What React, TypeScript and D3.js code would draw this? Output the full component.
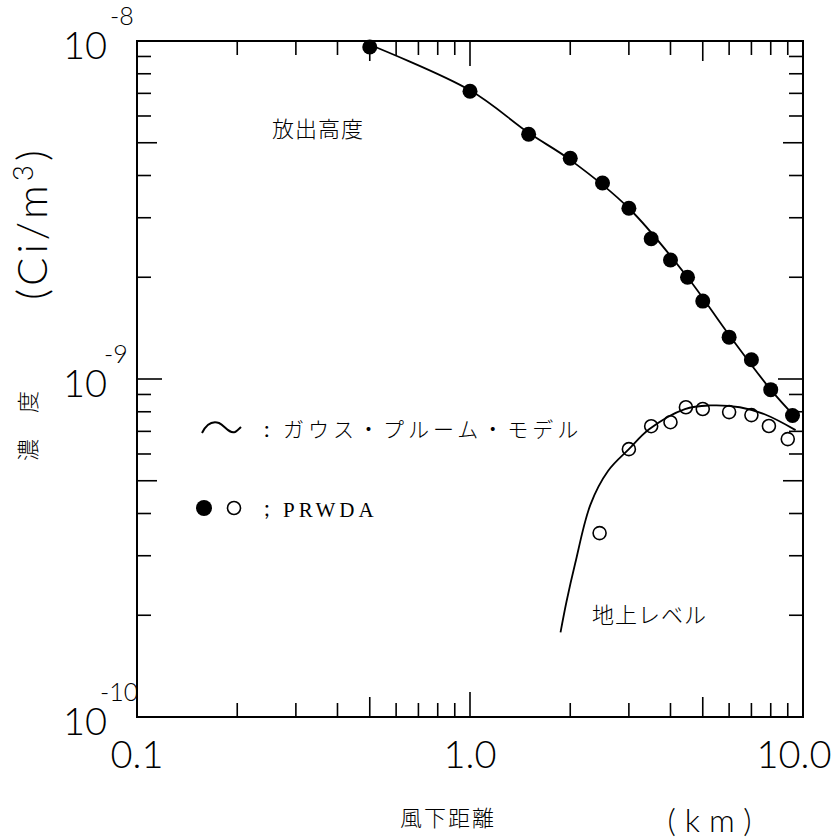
import React from 'react';
import * as d3 from 'd3';

const width = 833;
const height = 840;
const plot = { left: 137, right: 803, top: 41, bottom: 717 };

// release height (filled circles)
const releaseX = [0.5, 1.0, 1.5, 2.0, 2.5, 3.0, 3.5, 4.0, 4.5, 5.0, 6.0, 7.0, 8.0, 9.3];
const releaseY = [9.6e-9, 7.1e-9, 5.3e-9, 4.5e-9, 3.8e-9, 3.2e-9, 2.6e-9, 2.25e-9, 2.0e-9, 1.7e-9, 1.33e-9, 1.14e-9, 9.3e-10, 7.8e-10];

// ground level (open circles)
const groundX = [2.45, 3.0, 3.5, 4.0, 4.45, 5.0, 6.0, 7.0, 7.9, 9.0];
const groundY = [3.5e-10, 6.2e-10, 7.25e-10, 7.45e-10, 8.25e-10, 8.15e-10, 7.98e-10, 7.82e-10, 7.26e-10, 6.64e-10];

// gaussian plume model curves
const releaseCurveX = [0.5, 1.0, 1.5, 2.0, 3.0, 4.5, 6.0, 8.0, 9.5];
const releaseCurveY = [9.75e-9, 7.15e-9, 5.35e-9, 4.45e-9, 3.2e-9, 2.0e-9, 1.35e-9, 9.3e-10, 7.7e-10];
const groundCurveX = [1.87, 1.95, 2.07, 2.3, 2.6, 3.0, 3.45, 4.42, 5.25, 6.46, 7.7, 9.5];
const groundCurveY = [1.78e-10, 2.2e-10, 2.85e-10, 4.25e-10, 5.35e-10, 6.2e-10, 7.1e-10, 8.15e-10, 8.35e-10, 8.25e-10, 7.85e-10, 7.06e-10];

const xTickLabels = ['0.1', '1.0', '10.0'];
const xTickValues = [0.1, 1, 10];
const yExponents = [-8, -9, -10];

const sans = 'Lato, "Liberation Sans", Arial, sans-serif';
const jp = '"Noto Sans CJK JP", sans-serif';

const App = () => {
  const x = d3.scaleLog().domain([0.1, 10]).range([plot.left, plot.right]);
  const y = d3.scaleLog().domain([1e-10, 1e-8]).range([plot.bottom, plot.top]);

  const line = d3
    .line<[number, number]>()
    .x((d) => x(d[0]))
    .y((d) => y(d[1]))
    .curve(d3.curveCatmullRom.alpha(0.5));

  const releaseCurve = releaseCurveX.map((v, i) => [v, releaseCurveY[i]] as [number, number]);
  const groundCurve = groundCurveX.map((v, i) => [v, groundCurveY[i]] as [number, number]);

  // minor ticks 1..9 per decade
  const xTicks: number[] = [];
  [0.1, 1].forEach((b) => d3.range(1, 10).forEach((m) => xTicks.push(b * m)));
  xTicks.push(10);
  const yTicks: number[] = [];
  [1e-10, 1e-9].forEach((b) => d3.range(1, 10).forEach((m) => yTicks.push(b * m)));
  yTicks.push(1e-8);

  const tickLen = (v: number) => {
    const m = Math.round(v / Math.pow(10, Math.floor(Math.log10(v) + 1e-9)));
    return m === 1 ? 25 : m === 5 ? 20 : 14;
  };

  // superscript x positions for the y labels
  const supX: Record<string, number> = { '-8': 110, '-9': 104, '-10': 100 };

  return (
    <svg
      width={width}
      height={height}
      style={{ position: 'absolute', left: 0, top: 0, background: '#fff' }}
    >
      <rect
        x={plot.left}
        y={plot.top}
        width={plot.right - plot.left}
        height={plot.bottom - plot.top}
        fill="none"
        stroke="#000"
        strokeWidth={2}
      />
      {xTicks.map((v) => (
        <g key={'x' + v}>
          <line x1={x(v)} x2={x(v)} y1={plot.bottom} y2={plot.bottom - tickLen(v)} stroke="#000" strokeWidth={1.6} />
          <line x1={x(v)} x2={x(v)} y1={plot.top} y2={plot.top + tickLen(v)} stroke="#000" strokeWidth={1.6} />
        </g>
      ))}
      {yTicks.map((v) => (
        <g key={'y' + v}>
          <line x1={plot.left} x2={plot.left + tickLen(v)} y1={y(v)} y2={y(v)} stroke="#000" strokeWidth={1.6} />
          <line x1={plot.right} x2={plot.right - tickLen(v)} y1={y(v)} y2={y(v)} stroke="#000" strokeWidth={1.6} />
        </g>
      ))}

      {xTickValues.map((v, i) => (
        <text
          key={'xl' + v}
          x={x(v) + (i === 2 ? -9 : 0)}
          y={768}
          textAnchor="middle"
          fontFamily={sans}
          fontWeight={300}
          fontSize={38}
        >
          {xTickLabels[i]}
        </text>
      ))}
      {yExponents.map((e) => (
        <g key={'yl' + e} fontFamily={sans} fontWeight={300}>
          <text x={107} y={y(Math.pow(10, e)) + 18} textAnchor="end" fontSize={38}>
            10
          </text>
          <text x={supX[String(e)]} y={y(Math.pow(10, e)) - 16} fontSize={25}>
            {'-' + String(-e)}
          </text>
        </g>
      ))}

      <path d={line(releaseCurve) || ''} fill="none" stroke="#000" strokeWidth={1.8} />
      <path d={line(groundCurve) || ''} fill="none" stroke="#000" strokeWidth={1.8} />

      {releaseX.map((v, i) => (
        <circle key={'r' + i} cx={x(v)} cy={y(releaseY[i])} r={7.5} fill="#000" />
      ))}
      {groundX.map((v, i) => (
        <circle key={'g' + i} cx={x(v)} cy={y(groundY[i])} r={6.5} fill="none" stroke="#000" strokeWidth={1.6} />
      ))}

      <text x={272} y={137} fontFamily={jp} fontWeight={300} fontSize={22} letterSpacing={1}>
        放出高度
      </text>
      <text x={592} y={623} fontFamily={jp} fontWeight={300} fontSize={22} letterSpacing={1}>
        地上レベル
      </text>

      {/* legend */}
      <path
        d="M202,433 C207,423 213,421 219,423 C225,426 229,434 235,432 C237,431 239,429 241,427"
        fill="none"
        stroke="#000"
        strokeWidth={2}
      />
      <text x={264} y={437} fontFamily={sans} fontSize={22}>:</text>
      <text x={283} y={437} fontFamily={jp} fontWeight={300} fontSize={21} letterSpacing={4}>
        ガウス・プルーム・モデル
      </text>
      <circle cx={204} cy={508} r={8} fill="#000" />
      <circle cx={234} cy={508} r={6.5} fill="none" stroke="#000" strokeWidth={1.6} />
      <text x={264} y={516} fontFamily={sans} fontSize={22}>;</text>
      <text x={283} y={517} fontFamily='"Liberation Serif", serif' fontSize={21} letterSpacing={4}>
        PRWDA
      </text>

      {/* axis titles */}
      <text
        transform="translate(47,223) rotate(-90)"
        textAnchor="middle"
        fontFamily={sans}
        fontWeight={300}
        fontSize={42}
        letterSpacing={4}
      >
        (Ci/m<tspan fontSize={28} dy={-14}>3</tspan>
        <tspan dy={14}>)</tspan>
      </text>
      <g transform="translate(36,426) rotate(-90)" fontFamily={jp} fontWeight={300} fontSize={22}>
        <text x={-24} y={0} textAnchor="middle">濃</text>
        <text x={24} y={0} textAnchor="middle">度</text>
      </g>
      <text x={448} y={826} textAnchor="middle" fontFamily={jp} fontWeight={300} fontSize={22} letterSpacing={2}>
        風下距離
      </text>
      <text x={714} y={832} textAnchor="middle" fontFamily={sans} fontWeight={300} fontSize={32} letterSpacing={9}>
        (km)
      </text>
    </svg>
  );
};

export default App;
